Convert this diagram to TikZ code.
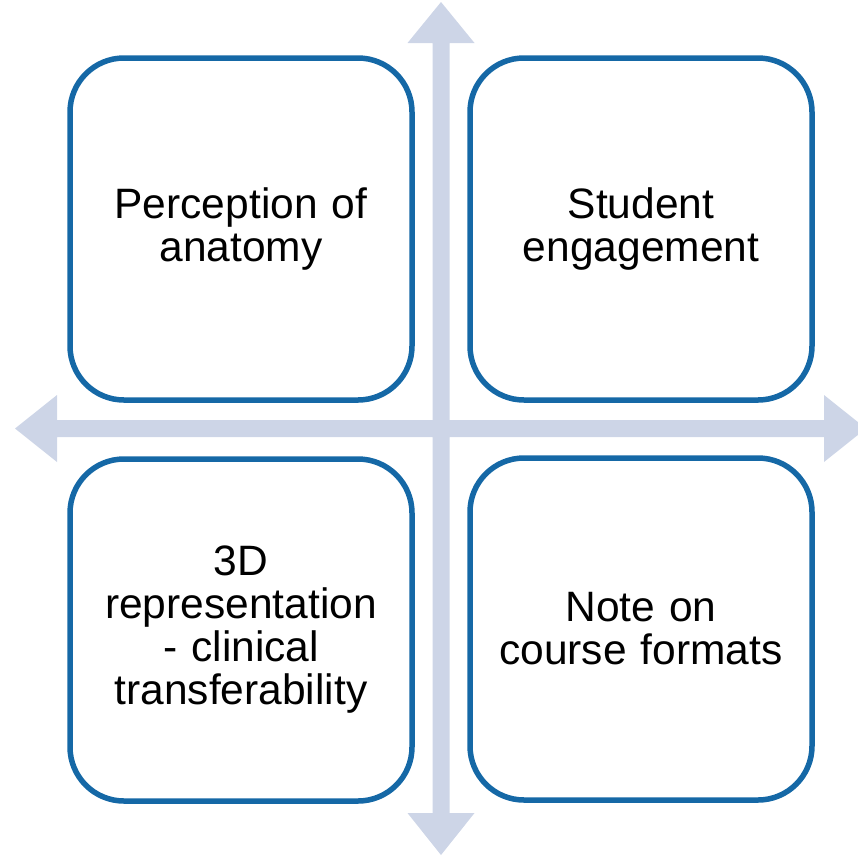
\documentclass[tikz,border=0pt]{standalone}
\usepackage{fontspec}
\setmainfont{Liberation Sans}
\definecolor{arrowfill}{RGB}{205,213,231}
\definecolor{boxline}{RGB}{21,104,166}
\begin{document}
\begin{tikzpicture}[x=1pt,y=-1pt,
  quad/.style={draw=boxline,line width=5.5pt,rounded corners=54pt,fill=white,
    minimum width=342pt,minimum height=342pt,inner sep=0pt,
    align=center,text width=320pt,
    font=\fontsize{42.5}{43}\selectfont},
  crossarrow/.style={fill=arrowfill,draw=none}]
\useasboundingbox (0,0) rectangle (858,857);
\clip (0,0) rectangle (858,857);
% cross of double-headed arrows
\fill[crossarrow] (441,2) -- (474.5,43) -- (449.5,43) -- (449.5,420) -- (824,420) -- (824,395)
  -- (866,428.5) -- (824,462) -- (824,437) -- (449.5,437) -- (449.5,813) -- (474.5,813)
  -- (441,855) -- (407.5,813) -- (432.5,813) -- (432.5,437) -- (57,437) -- (57,462)
  -- (15,428.5) -- (57,395) -- (57,420) -- (432.5,420) -- (432.5,43) -- (407.5,43) -- cycle;
\node[quad] (tl) at (241,229) {Perception of\\anatomy};
\node[quad] (tr) at (641,229) {Student\\engagement};
\node[quad] (bl) at (241,630) {3D\\representation\\- clinical\\transferability};
\node[quad] (br) at (641,629) {Note on\\course formats};
\end{tikzpicture}
\end{document}
